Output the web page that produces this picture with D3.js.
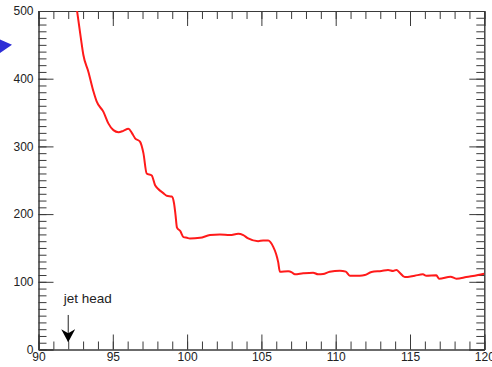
<!DOCTYPE html>
<html>
<head>
<meta charset="utf-8">
<script src="https://cdn.jsdelivr.net/npm/d3@7"></script>
<style>
  html, body { margin: 0; padding: 0; background: #fff; }
  svg { display: block; }
  text { font-family: "Liberation Sans", Arial, sans-serif; fill: #222; }
</style>
</head>
<body>
<svg id="chart" width="492" height="367"></svg>
<script>
// Position along the jet vs. measured quantity
const xs = [92.5, 92.85, 93.02, 93.36, 93.70, 93.92, 94.37, 94.70, 95.04, 95.38,
  95.71, 96.05, 96.28, 96.50, 96.83, 97.06, 97.28, 97.62, 97.84, 98.06,
  98.40, 98.63, 98.97, 99.12, 99.22, 99.32, 99.54, 99.76, 99.99, 100.19,
  100.87, 101.54, 102.21, 102.88, 103.44, 103.78, 104.11, 104.78, 105.12, 105.46,
  105.79, 105.99, 106.13, 106.24, 106.80, 107.05, 107.25, 107.81, 108.48, 108.82,
  109.15, 109.60, 110.28, 110.68, 110.95, 111.62, 111.96, 112.41, 113.08, 113.52,
  113.86, 114.09, 114.31, 114.65, 115.32, 115.87, 116.10, 116.77, 116.96, 117.73,
  118.12, 118.79, 119.91, 120.0];
const ys = [515, 460, 435, 410, 381, 366, 351, 334, 324, 321,
  323, 326, 320, 312, 307, 290, 260, 257, 243, 237,
  231, 227, 226, 216, 199, 180, 175, 166, 165, 164,
  165, 169, 170, 169, 171, 169, 164, 160, 161, 161,
  152, 141, 129, 115, 115.5, 114, 111, 112.5, 113.5, 111,
  111.5, 115, 116.5, 115, 109, 109, 110, 114.5, 116, 117.5,
  116, 117.5, 113.5, 107, 109, 111, 109, 109.5, 104.5, 107.5,
  104.5, 107, 111.5, 112];

const xTicks = [90, 95, 100, 105, 110, 115, 120];
const yTicks = [0, 100, 200, 300, 400, 500];
const annotation = { label: "jet head", at: 92 };

const svg = d3.select("#chart");
const L = 38.5, R = 484.3, T = 11, B = 349.5;

const x = d3.scaleLinear().domain([90, 120]).range([L, R]);
const y = d3.scaleLinear().domain([0, 500]).range([B, T]);

const axisColor = "#3a3a3a";
function styleAxis(g) {
  g.select(".domain").attr("stroke", axisColor).attr("stroke-width", 1);
  g.selectAll(".tick line").attr("stroke", axisColor).attr("stroke-width", 1);
  g.selectAll("text").attr("font-size", 12).attr("fill", "#222")
    .attr("font-family", "'Liberation Sans', Arial, sans-serif");
}

const minorX = d3.range(90, 121, 1);
const minorY = d3.range(0, 501, 10);

// Minor ticks on all four sides
svg.append("g").attr("transform", `translate(0,${B})`)
  .call(d3.axisBottom(x).tickValues(minorX).tickSize(-8).tickFormat(""))
  .call(styleAxis);
svg.append("g").attr("transform", `translate(0,${T})`)
  .call(d3.axisTop(x).tickValues(minorX).tickSize(-8).tickFormat(""))
  .call(styleAxis);
svg.append("g").attr("transform", `translate(${L},0)`)
  .call(d3.axisLeft(y).tickValues(minorY).tickSize(-8).tickFormat(""))
  .call(styleAxis);
svg.append("g").attr("transform", `translate(${R},0)`)
  .call(d3.axisRight(y).tickValues(minorY).tickSize(-8).tickFormat(""))
  .call(styleAxis);

// Major ticks with labels on bottom and left
svg.append("g").attr("transform", `translate(0,${B})`)
  .call(d3.axisBottom(x).tickValues(xTicks).tickSize(-15).tickPadding(3).tickFormat(d3.format("d")))
  .call(styleAxis);
svg.append("g").attr("transform", `translate(0,${T})`)
  .call(d3.axisTop(x).tickValues(xTicks).tickSize(-15).tickFormat(""))
  .call(styleAxis);
svg.append("g").attr("transform", `translate(${L},0)`)
  .call(d3.axisLeft(y).tickValues(yTicks).tickSize(-15).tickPadding(5).tickFormat(d3.format("d")))
  .call(styleAxis);
svg.append("g").attr("transform", `translate(${R},0)`)
  .call(d3.axisRight(y).tickValues(yTicks).tickSize(-15).tickFormat(""))
  .call(styleAxis);

// Data curve, clipped to the plot frame
svg.append("clipPath").attr("id", "plotClip")
  .append("rect").attr("x", L).attr("y", T).attr("width", R - L).attr("height", B - T);

const pts = xs.map((v, i) => [v, ys[i]]);
svg.append("path")
  .datum(pts)
  .attr("clip-path", "url(#plotClip)")
  .attr("fill", "none")
  .attr("stroke", "#ff1a1a")
  .attr("stroke-width", 2)
  .attr("stroke-linejoin", "round")
  .attr("d", d3.line().x(d => x(d[0])).y(d => y(d[1])).curve(d3.curveMonotoneX));

// "jet head" marker arrow
const ax = x(annotation.at);
svg.append("defs").append("marker")
  .attr("id", "arrowHead")
  .attr("viewBox", "0 0 14 13")
  .attr("refX", 7).attr("refY", 12.5)
  .attr("markerWidth", 14).attr("markerHeight", 13)
  .attr("markerUnits", "userSpaceOnUse")
  .attr("orient", "0")
  .append("path")
  .attr("d", "M0,0 L7,4 L14,0 L7,13 Z")
  .attr("fill", "#000");
svg.append("line")
  .attr("x1", ax).attr("x2", ax)
  .attr("y1", y(51)).attr("y2", y(11.5))
  .attr("stroke", "#222").attr("stroke-width", 1)
  .attr("marker-end", "url(#arrowHead)");
svg.append("text")
  .attr("x", ax - 4.5).attr("y", y(68))
  .attr("font-size", 13.5)
  .text(annotation.label);

// Blue pointer at the left edge
svg.append("path")
  .attr("d", `M0,${y(458)} L12,${y(450)} L0,${y(438)} Z`)
  .attr("fill", "#2e2ed6");
</script>
</body>
</html>
